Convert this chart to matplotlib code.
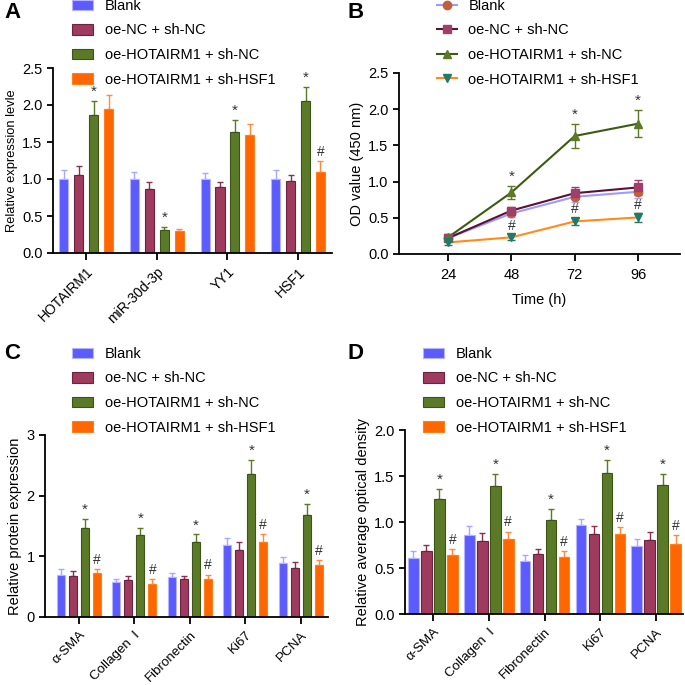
import numpy as np
import matplotlib.pyplot as plt
from matplotlib.patches import Patch
from matplotlib.lines import Line2D

plt.rcParams['font.family'] = ['Liberation Sans', 'DejaVu Sans']
plt.rcParams['font.size'] = 10

# ========= Data =========
groups = ['Blank', 'oe-NC + sh-NC', 'oe-HOTAIRM1 + sh-NC', 'oe-HOTAIRM1 + sh-HSF1']

# panel A
genes_a = ['HOTAIRM1', 'miR-30d-3p', 'YY1', 'HSF1']
blank_a = [1.00, 1.00, 1.00, 1.00]
blank_a_err = [0.12, 0.10, 0.08, 0.12]
nc_a = [1.05, 0.87, 0.89, 0.97]
nc_a_err = [0.12, 0.09, 0.07, 0.08]
hot_a = [1.86, 0.315, 1.64, 2.06]
hot_a_err = [0.20, 0.035, 0.16, 0.18]
hsf_a = [1.94, 0.30, 1.60, 1.09]
hsf_a_err = [0.20, 0.03, 0.15, 0.15]
star_a = ['*', '*', '*', '*']
hash_a = ['', '', '', '#']

# panel B
hours = [24, 48, 72, 96]
blank_b = [0.22, 0.56, 0.79, 0.86]
blank_b_err = [0.04, 0.05, 0.07, 0.09]
nc_b = [0.22, 0.60, 0.84, 0.92]
nc_b_err = [0.04, 0.05, 0.08, 0.10]
hot_b = [0.23, 0.85, 1.63, 1.80]
hot_b_err = [0.04, 0.09, 0.16, 0.19]
hsf_b = [0.16, 0.23, 0.45, 0.505]
hsf_b_err = [0.03, 0.04, 0.05, 0.06]
star_b = ['', '*', '*', '*']
hash_b = ['', '#', '#', '#']

# panel C
proteins = ['α-SMA', 'Collagen  Ⅰ', 'Fibronectin', 'Ki67', 'PCNA']
blank_c = [0.70, 0.57, 0.66, 1.19, 0.89]
blank_c_err = [0.09, 0.06, 0.07, 0.11, 0.10]
nc_c = [0.67, 0.61, 0.62, 1.11, 0.81]
nc_c_err = [0.09, 0.07, 0.06, 0.12, 0.09]
hot_c = [1.46, 1.35, 1.24, 2.36, 1.68]
hot_c_err = [0.15, 0.12, 0.12, 0.23, 0.19]
hsf_c = [0.73, 0.55, 0.63, 1.24, 0.85]
hsf_c_err = [0.06, 0.07, 0.07, 0.12, 0.09]

# panel D
blank_d = [0.605, 0.86, 0.58, 0.97, 0.74]
blank_d_err = [0.085, 0.10, 0.06, 0.06, 0.075]
nc_d = [0.68, 0.79, 0.65, 0.87, 0.80]
nc_d_err = [0.065, 0.09, 0.06, 0.09, 0.09]
hot_d = [1.25, 1.395, 1.02, 1.535, 1.40]
hot_d_err = [0.11, 0.125, 0.12, 0.135, 0.12]
hsf_d = [0.64, 0.815, 0.615, 0.87, 0.76]
hsf_d_err = [0.065, 0.08, 0.065, 0.075, 0.095]

# ========= Styles =========
face = ['#5b5bff', '#9e3b5e', '#5a7a28', '#ff6600']
edge = ['#b4b4ff', '#6e2241', '#3d5419', '#ff7f1e']
ecol = ['#a8a8ff', '#8a2f52', '#5a7a28', '#ff8a3a']


def style_axes(ax):
    for s in ['top', 'right']:
        ax.spines[s].set_visible(False)
    for s in ['left', 'bottom']:
        ax.spines[s].set_linewidth(1.3)
    ax.tick_params(axis='both', width=1.3, length=4, labelsize=10.5, colors='black')


def bar_panel(ax, cats, series, errs, pitch, width, xlim, ylim, yticks, fmt, ylabel, marks,
              ylabel_size=10.5, xlab_size=10):
    x = np.arange(len(cats))
    for i, (vals, err) in enumerate(zip(series, errs)):
        pos = x + (i - 1.5) * pitch
        ax.bar(pos, vals, width=width, color=face[i], edgecolor=edge[i], linewidth=0.8,
               zorder=2, label=groups[i])
        ax.errorbar(pos, vals, yerr=[np.zeros(len(vals)), err], fmt='none',
                    ecolor=ecol[i], elinewidth=1.0, capsize=2, capthick=1.0, zorder=1)
        if i in marks:
            for p, v, e, m in zip(pos, vals, err, marks[i]):
                if m:
                    off = (ylim[1] - ylim[0]) * 0.012
                    ax.text(p, v + e + off, m, ha='center', va='bottom',
                            fontsize=10 if m == '#' else 11, color='#333333')
    style_axes(ax)
    ax.set_xlim(*xlim)
    ax.set_ylim(*ylim)
    ax.set_yticks(yticks)
    ax.set_yticklabels([fmt % t for t in yticks])
    ax.set_xticks(x)
    ax.set_xticklabels(cats, rotation=45, ha='right', rotation_mode='anchor', fontsize=xlab_size)
    ax.tick_params(axis='x', length=5)
    ax.set_ylabel(ylabel, fontsize=ylabel_size, labelpad=3)


def bar_legend(fig, x, y):
    handles = [Patch(facecolor=face[i], edgecolor=edge[i], linewidth=0.8) for i in range(4)]
    fig.legend(handles, groups, loc='upper left', bbox_to_anchor=(x, y),
               bbox_transform=fig.transFigure, frameon=False, fontsize=10.5,
               handlelength=1.45, handleheight=0.75, handletextpad=0.8,
               labelspacing=0.72, borderpad=0, borderaxespad=0)


fig = plt.figure(figsize=(6.85, 6.85), dpi=100)
W = 685.0

def add_ax(l, r, b, t):
    return fig.add_axes([l / W, 1 - b / W, (r - l) / W, (b - t) / W])

# ========= Panel A =========
axA = add_ax(53, 332, 253, 68)
bar_panel(axA, genes_a, [blank_a, nc_a, hot_a, hsf_a],
          [blank_a_err, nc_a_err, hot_a_err, hsf_a_err],
          0.211, 0.128, (-0.47, 3.48), (0, 2.5), [0, 0.5, 1.0, 1.5, 2.0, 2.5], '%.1f',
          'Relative expression levle', {2: star_a, 3: hash_a}, ylabel_size=9.3)
bar_legend(fig, 72 / W, 1 + 1 / W)

# ========= Panel B =========
axB = add_ax(399, 680, 254, 73)
line_col = ['#9c9cff', '#5a1232', '#3b5a12', '#ff8c1a']
mk_col = ['#c0603a', '#a0406a', '#5a7a28', '#1f7a6a']
mk = ['o', 's', '^', 'v']
for i, (vals, err) in enumerate(zip([blank_b, nc_b, hot_b, hsf_b],
                                    [blank_b_err, nc_b_err, hot_b_err, hsf_b_err])):
    axB.errorbar(hours, vals, yerr=err, fmt='none', ecolor=mk_col[i] if i != 0 else '#a8a8ff',
                 elinewidth=1.0, capsize=3, capthick=1.0, zorder=2)
    axB.plot(hours, vals, color=line_col[i], lw=1.5, zorder=3)
    axB.plot(hours, vals, linestyle='none', marker=mk[i], ms=6, mfc=mk_col[i], mec=mk_col[i],
             zorder=4)
for h, v, e, m in zip(hours, hot_b, hot_b_err, star_b):
    if m:
        axB.text(h, v + e + 0.03, m, ha='center', va='bottom', fontsize=11, color='#333333')
for h, v, e, m in zip(hours, hsf_b, hsf_b_err, hash_b):
    if m:
        axB.text(h, v + e + 0.02, m, ha='center', va='bottom', fontsize=10, color='#333333')
style_axes(axB)
axB.set_xlim(5.4, 111.9)
axB.set_ylim(0, 2.5)
axB.set_xticks(hours)
axB.set_yticks([0, 0.5, 1.0, 1.5, 2.0, 2.5])
axB.set_yticklabels(['%.1f' % t for t in [0, 0.5, 1.0, 1.5, 2.0, 2.5]])
axB.tick_params(axis='x', length=5, pad=5)
axB.set_xlabel('Time (h)', fontsize=10.5, labelpad=8)
axB.set_ylabel('OD value (450 nm)', fontsize=10.5, labelpad=3)
lh = [Line2D([0], [0], color=line_col[i], lw=1.5, marker=mk[i], ms=6,
             mfc=mk_col[i], mec=mk_col[i]) for i in range(4)]
fig.legend(lh, groups, loc='upper left', bbox_to_anchor=(437 / W, 1 + 1 / W),
           bbox_transform=fig.transFigure, frameon=False, fontsize=10.5,
           handlelength=1.35, handletextpad=0.8, labelspacing=0.72,
           borderpad=0, borderaxespad=0)

# ========= Panel C =========
axC = add_ax(45, 328, 617, 435)
bar_panel(axC, proteins, [blank_c, nc_c, hot_c, hsf_c],
          [blank_c_err, nc_c_err, hot_c_err, hsf_c_err],
          0.216, 0.14, (-0.61, 4.49), (0, 3), [0, 1, 2, 3], '%d',
          'Relative protein expression', {2: ['*'] * 5, 3: ['#'] * 5}, xlab_size=9.6)
bar_legend(fig, 72 / W, 1 - 347 / W)

# ========= Panel D =========
axD = add_ax(405, 683, 614, 430)
bar_panel(axD, proteins, [blank_d, nc_d, hot_d, hsf_d],
          [blank_d_err, nc_d_err, hot_d_err, hsf_d_err],
          0.233, 0.19, (-0.5, 4.48), (0, 2.0), [0, 0.5, 1.0, 1.5, 2.0], '%.1f',
          'Relative average optical density', {2: ['*'] * 5, 3: ['#'] * 5}, xlab_size=9.6)
bar_legend(fig, 423 / W, 1 - 347 / W)

# ========= Panel letters =========
for lab, x, y in [('A', 4, 2), ('B', 348, 2), ('C', 4, 343), ('D', 348, 343)]:
    fig.text(x / W, 1 - y / W, lab, fontsize=16, fontweight='bold', va='top', ha='left')

fig.savefig('out.png', dpi=100)
